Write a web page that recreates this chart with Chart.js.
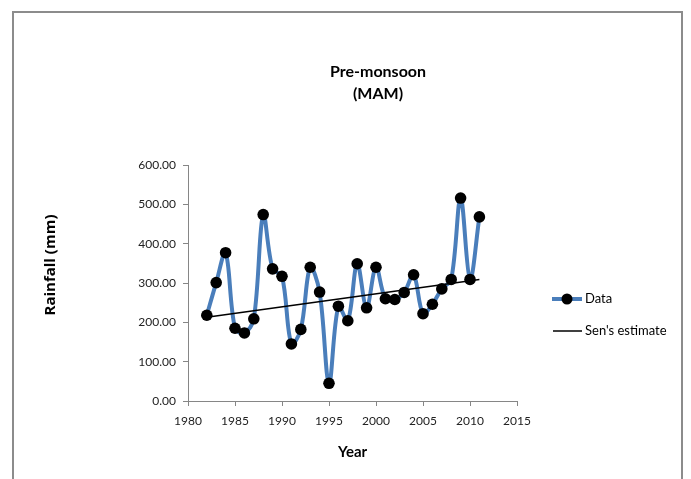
<!DOCTYPE html>
<html>
<head>
<meta charset="utf-8">
<script src="https://cdn.jsdelivr.net/npm/chart.js@4"></script>
<style>
  html, body { margin: 0; padding: 0; background: #fff; }
  #wrap { position: relative; width: 691px; height: 479px; }
</style>
</head>
<body>
<div id="wrap"><canvas id="rainChart" width="691" height="479"></canvas></div>
<script>
// Datos
const years = [1982, 1983, 1984, 1985, 1986, 1987, 1988, 1989, 1990, 1991,
               1992, 1993, 1994, 1995, 1996, 1997, 1998, 1999, 2000, 2001,
               2002, 2003, 2004, 2005, 2006, 2007, 2008, 2009, 2010, 2011];
const rainfall = [218, 301, 377, 185, 173, 209, 474, 336, 317, 145,
                  182, 340, 277, 45, 241, 204, 349, 237, 340, 260,
                  258, 276, 321, 222, 246, 285, 309, 516, 309, 468];
const senYears = [1982, 2011];
const senValues = [213, 309];
const yTicks = [0, 100, 200, 300, 400, 500, 600];
const xTicks = [1980, 1985, 1990, 1995, 2000, 2005, 2010, 2015];

const FONT = 'Lato, "Open Sans", sans-serif';
const AXIS_COLOR = '#868686';

// Marco, titulo, titulos de ejes y leyenda
const decorPlugin = {
    id: 'decor',
    beforeDraw(chart) {
        const ctx = chart.ctx;
        ctx.save();
        ctx.fillStyle = '#fff';
        ctx.fillRect(0, 0, chart.width, chart.height);
        ctx.strokeStyle = '#8c8c8c';
        ctx.lineWidth = 2;
        ctx.strokeRect(13, 12, 669, 480);
        ctx.restore();
    },
    afterDraw(chart) {
        const ctx = chart.ctx;
        const area = chart.chartArea;
        ctx.save();
        ctx.fillStyle = '#000';
        ctx.textAlign = 'center';
        ctx.textBaseline = 'middle';

        ctx.font = 'bold 16px ' + FONT;
        ctx.fillText('Pre-monsoon', 378, 72);
        ctx.fillText('(MAM)', 378, 94);

        ctx.font = 'bold 15px ' + FONT;
        ctx.fillText('Year', (area.left + area.right) / 2, 452);

        ctx.save();
        ctx.translate(51, 265);
        ctx.rotate(-Math.PI / 2);
        ctx.font = 'bold 15px "Open Sans", sans-serif';
        ctx.fillText('Rainfall (mm)', 0, 0);
        ctx.restore();

        // Leyenda
        const ds = chart.data.datasets;
        ctx.textAlign = 'left';
        ctx.font = '13px ' + FONT;

        ctx.strokeStyle = ds[0].borderColor;
        ctx.lineWidth = ds[0].borderWidth;
        ctx.beginPath();
        ctx.moveTo(552, 299);
        ctx.lineTo(582, 299);
        ctx.stroke();
        ctx.fillStyle = ds[0].pointBackgroundColor;
        ctx.beginPath();
        ctx.arc(567, 299, 5.5, 0, Math.PI * 2);
        ctx.fill();
        ctx.fillStyle = '#000';
        ctx.fillText('Data', 585, 299);

        ctx.strokeStyle = ds[1].borderColor;
        ctx.lineWidth = ds[1].borderWidth;
        ctx.beginPath();
        ctx.moveTo(553, 331);
        ctx.lineTo(582, 331);
        ctx.stroke();
        ctx.fillText("Sen's estimate", 585, 331);
        ctx.restore();
    }
};

new Chart(document.getElementById('rainChart'), {
    type: 'line',
    data: {
        datasets: [
            {
                label: 'Data',
                data: years.map((y, i) => ({ x: y, y: rainfall[i] })),
                borderColor: '#4a7ebb',
                borderWidth: 4,
                tension: 0.35,
                pointRadius: 5.8,
                pointBackgroundColor: '#000',
                pointBorderColor: '#000',
                pointBorderWidth: 0,
                order: 2
            },
            {
                label: "Sen's estimate",
                data: senYears.map((y, i) => ({ x: y, y: senValues[i] })),
                borderColor: '#000',
                borderWidth: 1.5,
                pointRadius: 0,
                tension: 0,
                order: 1
            }
        ]
    },
    options: {
        responsive: false,
        animation: false,
        layout: { padding: { left: 0, top: 165, right: 174, bottom: 0 } },
        plugins: {
            legend: { display: false },
            title: { display: false },
            tooltip: { enabled: false }
        },
        scales: {
            x: {
                type: 'linear',
                min: xTicks[0],
                max: xTicks[xTicks.length - 1],
                afterBuildTicks(scale) { scale.ticks = xTicks.map(v => ({ value: v })); },
                afterFit(scale) { scale.height = 78; },
                grid: { drawOnChartArea: false, drawTicks: true, tickLength: 5, color: AXIS_COLOR },
                border: { color: AXIS_COLOR, width: 1 },
                ticks: {
                    padding: 8,
                    color: '#222',
                    font: { family: FONT, size: 12 },
                    callback: v => String(v)
                }
            },
            y: {
                min: yTicks[0],
                max: yTicks[yTicks.length - 1],
                afterBuildTicks(scale) { scale.ticks = yTicks.map(v => ({ value: v })); },
                afterFit(scale) { scale.width = 188; },
                grid: { drawOnChartArea: false, drawTicks: true, tickLength: 5, color: AXIS_COLOR },
                border: { color: AXIS_COLOR, width: 1 },
                ticks: {
                    padding: 7,
                    color: '#222',
                    font: { family: FONT, size: 12 },
                    callback: v => v.toFixed(2)
                }
            }
        }
    },
    plugins: [decorPlugin]
});
</script>
</body>
</html>
